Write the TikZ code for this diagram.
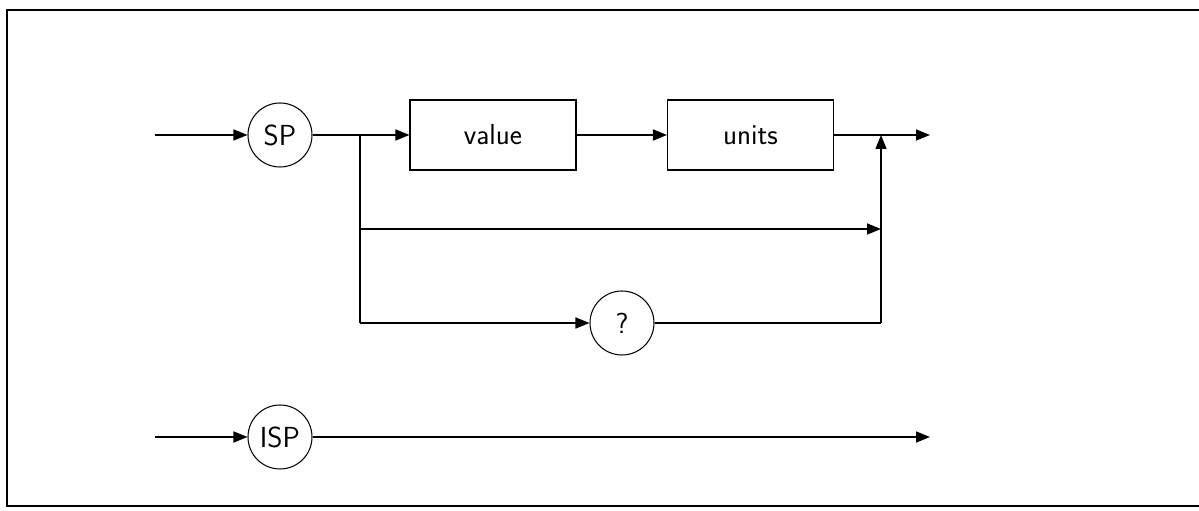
\documentclass[tikz,border=0pt]{standalone}
\usetikzlibrary{arrows.meta, positioning}
\tikzset{
	synbox/.style={draw, line width=0.6pt, minimum width=3.32cm, minimum height=1.4cm,
		font=\sffamily\fontsize{16.5}{19}\selectfont},
	syncirc/.style={draw, circle, line width=0.6pt, minimum size=1.28cm, inner sep=0pt,
		font=\sffamily\fontsize{16.5}{19}\selectfont},
	flow/.style={line width=0.9pt, -{Triangle[length=0.28cm, width=0.22cm]}},
	wire/.style={line width=0.9pt}
}
\begin{document}
\begin{tikzpicture}
				\useasboundingbox (0,0) rectangle (23.98,10.22);
				% cadre
				\draw[line width=1.6pt] (23.98,10.02) -- (0.14,10.02) -- (0.14,0.1) -- (23.98,0.1);
				% ligne SP
				\coordinate (in1) at (3.1,7.52);
				\node[syncirc] (sp) at (5.6,7.52) {SP};
				\node[synbox] (val) at (9.86,7.52) {value};
				\node[synbox] (uni) at (15.01,7.52) {units};
				\coordinate (fork1) at (7.2,7.52);
				\coordinate (join1) at (17.62,7.52);
				\coordinate (out1) at (18.6,7.52);
				\draw[flow] (in1) -- (sp);
				\draw[flow] (sp) -- (val);
				\draw[flow] (val) -- (uni);
				\draw[flow] (uni) -- (out1);
				% branches
				\coordinate (fork2) at (7.2,5.64);
				\coordinate (join2) at (17.62,5.64);
				\coordinate (fork3) at (7.2,3.76);
				\coordinate (join3) at (17.62,3.76);
				\node[syncirc] (qm) at (12.44,3.76) {?};
				\draw[wire] (fork1) -- (fork3);
				\draw[flow] (fork2) -- (join2);
				\draw[flow] (fork3) -- (qm);
				\draw[wire] (qm) -- (join3);
				\draw[flow] (join3) -- (join1);
				% ligne ISP
				\coordinate (in2) at (3.1,1.48);
				\node[syncirc] (isp) at (5.6,1.48) {ISP};
				\coordinate (out2) at (18.6,1.48);
				\draw[flow] (in2) -- (isp);
				\draw[flow] (isp) -- (out2);
			\end{tikzpicture}
\end{document}
